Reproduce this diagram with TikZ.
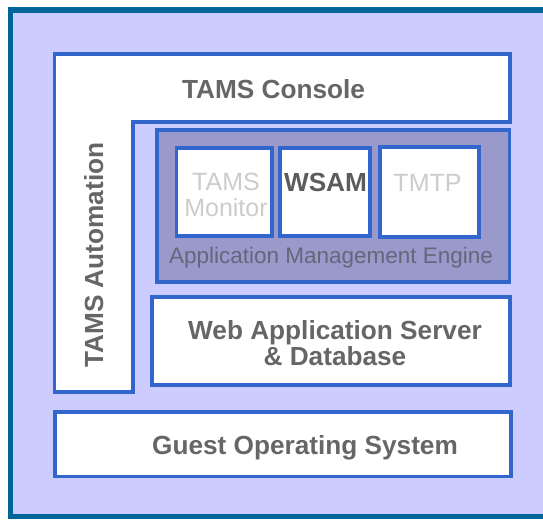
\documentclass[tikz,border=0pt]{standalone}
\usepackage{fontspec}
\setmainfont{Liberation Sans}
\definecolor{framecol}{HTML}{006699}
\definecolor{lav}{HTML}{CCCCFF}
\definecolor{boxline}{HTML}{3366CC}
\definecolor{amefill}{HTML}{9999CC}
\definecolor{txtgray}{HTML}{666666}
\definecolor{txtlight}{HTML}{CCCCCC}
\definecolor{txtame}{HTML}{66667A}
\tikzset{
  box/.style={draw=boxline, line width=3.5pt, fill=white, inner sep=0pt, outer sep=0pt},
  amebox/.style={box, fill=amefill},
  boldlbl/.style={font=\fontsize{26.2}{26}\selectfont\bfseries, text=txtgray, inner sep=0pt, align=center},
  lightlbl/.style={font=\fontsize{25}{26}\selectfont, text=txtlight, inner sep=0pt, align=center},
  amelbl/.style={font=\fontsize{22.5}{22.5}\selectfont, text=txtame, inner sep=0pt}
}
\begin{document}
\begin{tikzpicture}[x=1pt,y=-1pt]
\useasboundingbox (0,0) rectangle (543,519);
\fill[white] (0,0) rectangle (543,519);
\fill[framecol] (8,7) rectangle (543,519);
\fill[lav] (13,13) rectangle (543,514);
% L-shaped console / automation
\draw[box] (54.5,54) -- (510,54) -- (510,122) -- (133,122) -- (133,392) -- (54.5,392) -- cycle;
\node[boldlbl, anchor=base] (console) at (273.5,98.5) {TAMS Console};
\node[boldlbl, anchor=base, rotate=90] (automation) at (103,255) {TAMS Automation};
% Application management engine
\node[amebox, minimum width=352.5pt, minimum height=152pt] (ame) at (333.25,206) {};
\node[box, minimum width=95.5pt, minimum height=88pt] (monbox) at (224.25,192) {};
\node[box, minimum width=90pt, minimum height=88pt] (wsambox) at (325,192) {};
\node[box, minimum width=99pt, minimum height=90pt] (tmtpbox) at (429.5,192) {};
\node[lightlbl, anchor=north] (monitor) at (226,173) {TAMS\\Monitor};
\node[boldlbl, anchor=base, text=txtgray!90!black] (wsam) at (325.5,191) {WSAM};
\node[lightlbl, anchor=base] (tmtp) at (427.5,191) {TMTP};
\node[amelbl, anchor=base] (amelabel) at (331,263) {Application Management Engine};
% Web application server
\node[box, minimum width=358pt, minimum height=88pt] (was) at (331,341) {};
\node[boldlbl, anchor=north] (waslabel) at (335,320.5) {Web Application Server\\\& Database};
% Guest OS
\node[box, minimum width=456pt, minimum height=64.5pt] (guest) at (283,444.25) {};
\node[boldlbl, anchor=base] (guestlabel) at (305,454.5) {Guest Operating System};
\end{tikzpicture}
\end{document}
